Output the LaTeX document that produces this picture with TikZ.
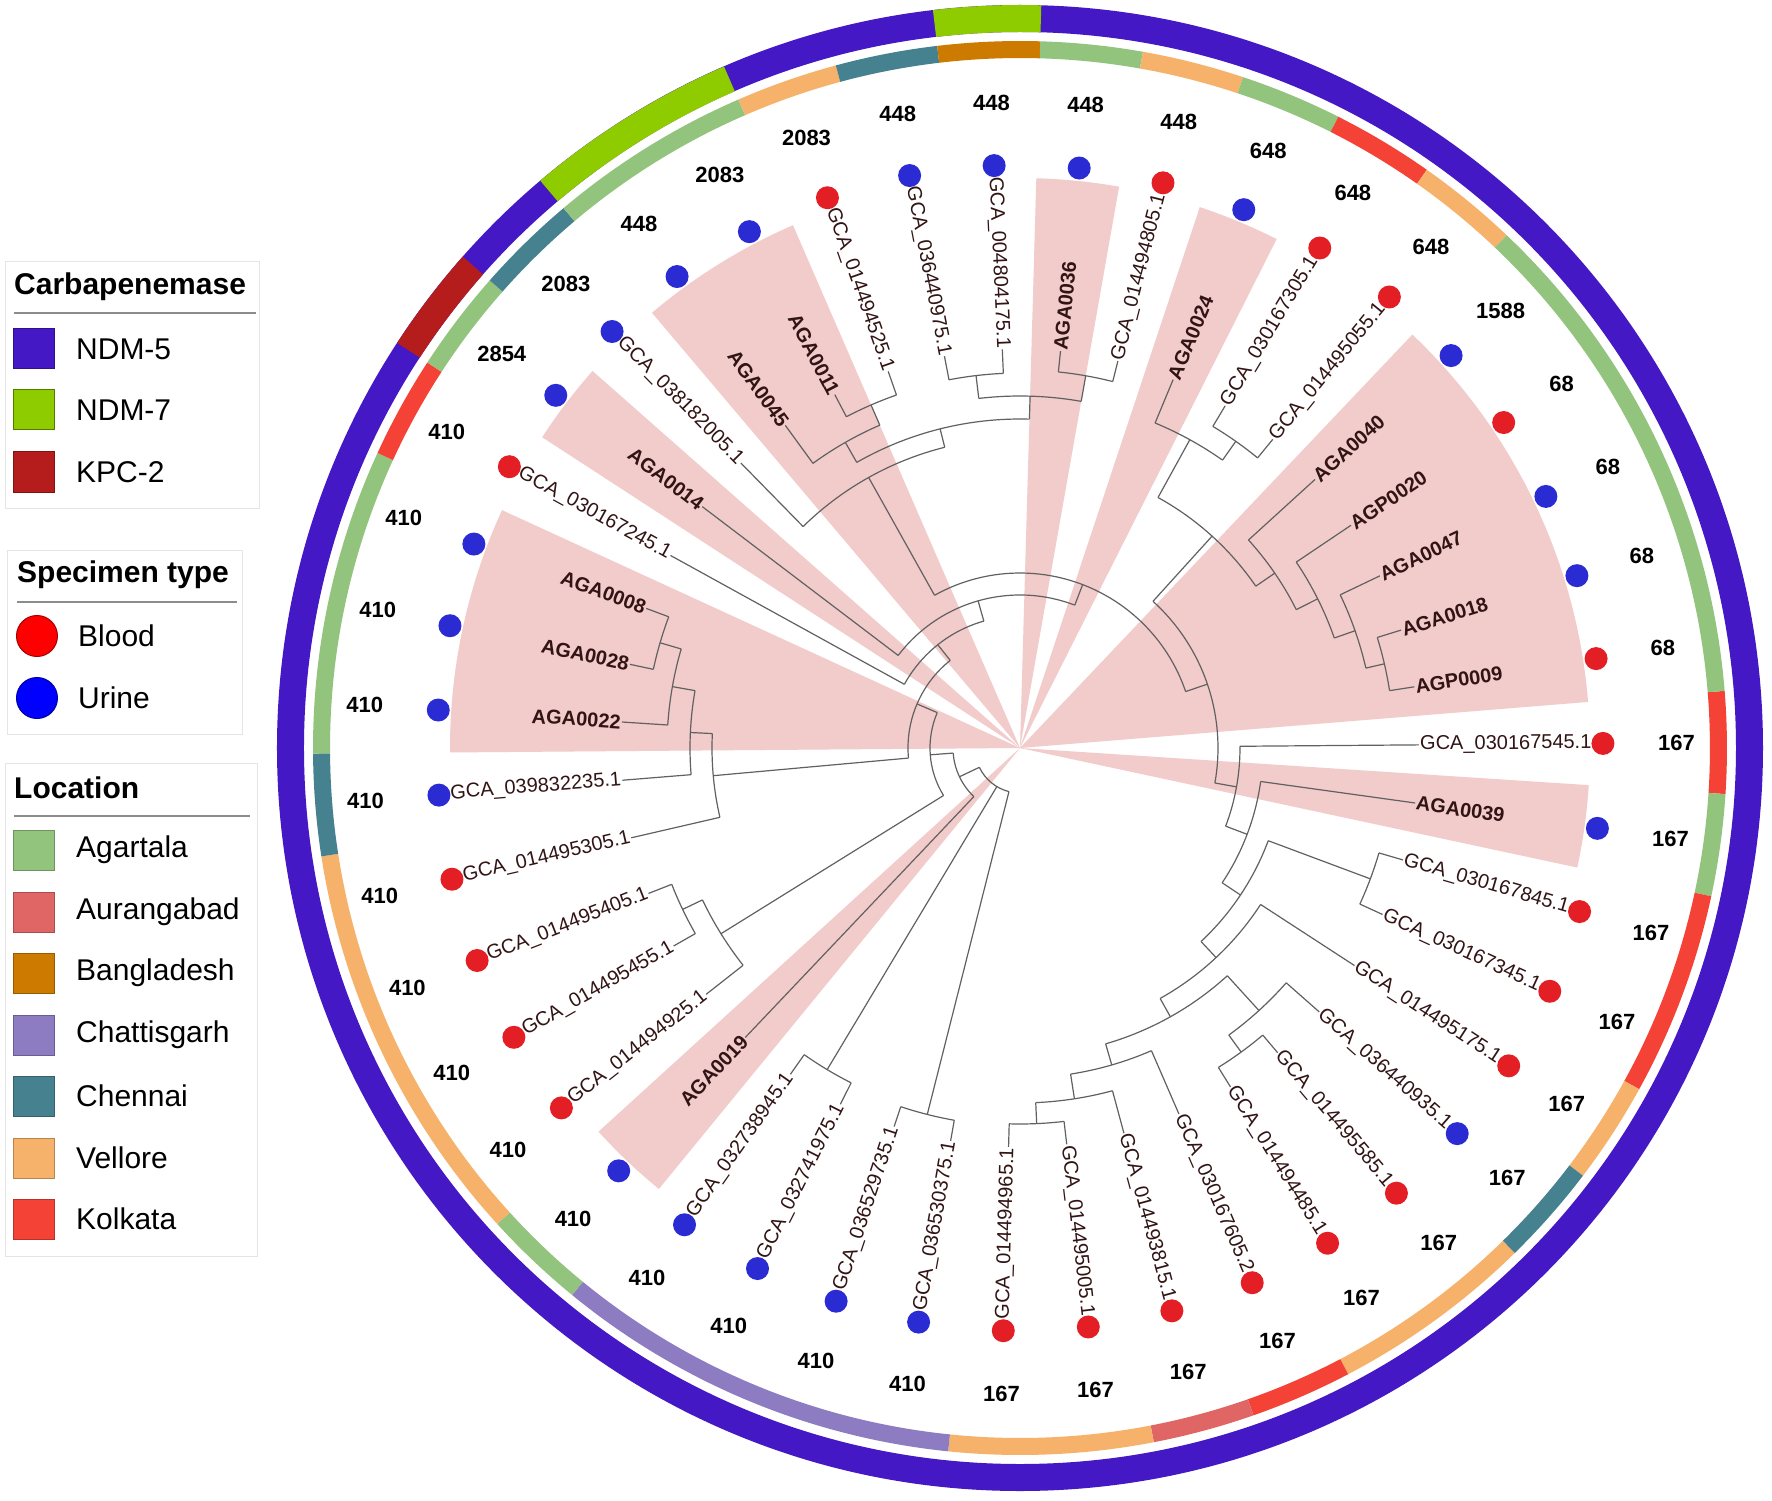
\documentclass[tikz,border=0pt]{standalone}
\usepackage{fontspec}
\setmainfont{Liberation Sans}
\definecolor{cNDMfive}{HTML}{4418C4}
\definecolor{cNDMseven}{HTML}{8ECC00}
\definecolor{cKPC}{HTML}{B51D1D}
\definecolor{cAga}{HTML}{93C47D}
\definecolor{cAur}{HTML}{E06666}
\definecolor{cBan}{HTML}{CC7A00}
\definecolor{cCha}{HTML}{8E7CC3}
\definecolor{cChe}{HTML}{45818E}
\definecolor{cVel}{HTML}{F6B26B}
\definecolor{cKol}{HTML}{F44336}
\definecolor{bloodc}{HTML}{E31E24}
\definecolor{urinec}{HTML}{2B2BD4}
\definecolor{wedgec}{HTML}{F2CBCB}
\definecolor{labc}{RGB}{50,20,20}
\newcommand\gcaf{\fontsize{20}{24}\selectfont}
\newcommand\agaf{\fontsize{20}{24}\selectfont\bfseries}
\newcommand\legtitle{\fontsize{30}{34}\selectfont\bfseries}
\newcommand\legitem{\fontsize{30}{34}\selectfont}
\tikzset{
  branch/.style={draw=black!62, line width=1.2pt},
  leaflab/.style={inner sep=1pt, text=labc},
  specdot/.style={circle, inner sep=0pt, minimum size=23},
  stlab/.style={inner sep=0pt, font=\fontsize{22}{26}\selectfont\bfseries},
  swatch/.style={rectangle, inner sep=0pt, minimum width=41, minimum height=40, line width=1pt},
  legdot/.style={circle, inner sep=0pt, minimum size=41, line width=1pt},
  legbox/.style={draw=black!10, fill=white, line width=1pt},
  legrule/.style={draw=black!45, line width=1.5pt}
}
% tree internal node: name, radius, angle, first child angle, last child angle, parent radius
\newcommand\tnode[6]{%
  \coordinate (#1) at (#3:#2);
  \draw[branch] (#4:#2) arc[start angle=#4, end angle=#5, radius=#2];
  \draw[branch] (#3:#6) -- (#1);}
\newcommand\cladewedge[2]{%
  \pgfmathsetmacro\rsA{0.45-(#1-1)*360/43+180/43}%
  \pgfmathsetmacro\rsB{0.45-(#2-1)*360/43-180/43}%
  \fill[wedgec] (0,0) -- (\rsA:570) arc[start angle=\rsA, end angle=\rsB, radius=570] -- cycle;}
\newcommand\ringseg[5]{%
  \pgfmathsetmacro\rsA{0.45-(#1-1)*360/43+180/43}%
  \pgfmathsetmacro\rsB{0.45-(#2-1)*360/43-180/43}%
  \fill[#5] (\rsA:#3) arc[start angle=\rsA, end angle=\rsB, radius=#3] -- (\rsB:#4) arc[start angle=\rsB, end angle=\rsA, radius=#4] -- cycle;}
\begin{document}
\begin{tikzpicture}[x=1pt,y=1pt]
\useasboundingbox (-1020,-752) rectangle (752,748);
\fill[white] (-1020,-752) rectangle (752,748);
% ---------- clade shading
\cladewedge{2}{2}
\cladewedge{17}{17}
\cladewedge{23}{25}
\cladewedge{27}{27}
\cladewedge{29}{30}
\cladewedge{34}{34}
\cladewedge{36}{36}
\cladewedge{39}{43}
% ---------- tree (internal nodes)
\coordinate (nW) at (230.6:45);
\draw[branch] (205.4195:45) arc[start angle=205.4195, end angle=255.799, radius=45];
\tnode{nU}{67}{205.4195}{184.343}{226.496}{45}
\tnode{nV}{90}{184.343}{156.841}{211.845}{67}
\tnode{nT}{112}{156.841}{128.523}{185.159}{90}
\tnode{nS}{132}{128.523}{151.148}{105.8985}{112}
\tnode{nQ}{153}{105.8985}{142.776}{69.021}{132}
\tnode{nP}{175}{69.021}{119.229}{18.813}{153}
\tnode{nRone}{198}{18.813}{47.8045}{-10.178}{175}
\tnode{nB}{220}{-10.178}{0.45}{-20.807}{198}
\tnode{nC}{243}{-20.807}{-7.922}{-33.692}{220}
\tnode{nF}{265}{-33.692}{-20.480}{-46.905}{243}
\tnode{nTF}{374}{-20.480}{-16.294}{-24.666}{265}
\tnode{nH}{287}{-46.905}{-33.038}{-60.771}{265}
\tnode{nI}{308}{-60.771}{-47.690}{-73.853}{287}
\tnode{nSix}{355}{-47.690}{-41.411}{-53.969}{308}
\tnode{nSvE}{376}{-53.969}{-49.783}{-58.155}{355}
\tnode{nNine}{330}{-73.853}{-66.527}{-81.178}{308}
\tnode{nTen}{355}{-81.178}{-74.899}{-87.457}{330}
\tnode{nElTw}{376}{-87.457}{-83.271}{-91.643}{355}
\tnode{nA}{286}{47.8045}{61.148}{34.461}{198}
\tnode{nThSix}{352}{61.148}{67.427}{54.869}{286}
\tnode{nThSv}{375}{54.869}{59.055}{50.683}{352}
\tnode{nThNi}{309}{34.461}{42.310}{26.6125}{286}
\tnode{nFo}{333}{26.6125}{33.938}{19.287}{309}
\tnode{nFoOne}{355}{19.287}{25.566}{13.008}{333}
\tnode{nFoTw}{374}{13.008}{17.194}{8.822}{355}
\tnode{nTwEi}{310}{119.229}{134.403}{104.0545}{175}
\tnode{nTop}{329}{104.0545}{119.752}{88.357}{310}
\tnode{nTwNi}{352}{119.752}{126.031}{113.473}{329}
\tnode{nThi}{374}{113.473}{117.659}{109.287}{352}
\tnode{nThTw}{352}{88.357}{96.729}{79.985}{329}
\tnode{nThTh}{375}{96.729}{100.915}{92.543}{352}
\tnode{nThFo}{378}{79.985}{84.171}{75.799}{352}
\tnode{nTwOne}{308}{185.159}{193.008}{177.3105}{112}
\tnode{nTwTw}{330}{177.3105}{184.636}{169.985}{308}
\tnode{nTwTh}{353}{169.985}{176.264}{163.706}{330}
\tnode{nTwFo}{375}{163.706}{167.892}{159.520}{353}
\tnode{nEiT}{352}{211.845}{218.124}{205.566}{90}
\tnode{nNiT}{374}{205.566}{209.752}{201.380}{352}
\tnode{nFiSi}{375}{239.055}{243.241}{234.869}{45}
\tnode{nThFoT}{378}{255.799}{259.985}{251.613}{45}
% ---------- leaves
\foreach \i/\nm/\sp/\st/\rp/\fn in {
1/GCA\_030167545.1/bloodc/167/220/\gcaf,
2/AGA0039/urinec/167/243/\agaf,
3/GCA\_030167845.1/bloodc/167/374/\gcaf,
4/GCA\_030167345.1/bloodc/167/374/\gcaf,
5/GCA\_014495175.1/bloodc/167/287/\gcaf,
6/GCA\_036440935.1/urinec/167/355/\gcaf,
7/GCA\_014495585.1/bloodc/167/376/\gcaf,
8/GCA\_014494485.1/bloodc/167/376/\gcaf,
9/GCA\_030167605.2/bloodc/167/330/\gcaf,
10/GCA\_014493815.1/bloodc/167/355/\gcaf,
11/GCA\_014495005.1/bloodc/167/376/\gcaf,
12/GCA\_014494965.1/bloodc/167/376/\gcaf,
13/GCA\_036530375.1/urinec/410/378/\gcaf,
14/GCA\_036529735.1/urinec/410/378/\gcaf,
15/GCA\_032741975.1/urinec/410/375/\gcaf,
16/GCA\_032738945.1/urinec/410/375/\gcaf,
17/AGA0019/urinec/410/67/\agaf,
18/GCA\_014494925.1/bloodc/410/352/\gcaf,
19/GCA\_014495455.1/bloodc/410/374/\gcaf,
20/GCA\_014495405.1/bloodc/410/374/\gcaf,
21/GCA\_014495305.1/bloodc/410/308/\gcaf,
22/GCA\_039832235.1/urinec/410/330/\gcaf,
23/AGA0022/urinec/410/353/\agaf,
24/AGA0028/urinec/410/375/\agaf,
25/AGA0008/urinec/410/375/\agaf,
26/GCA\_030167245.1/bloodc/410/132/\gcaf,
27/AGA0014/urinec/2854/153/\agaf,
28/GCA\_038182005.1/urinec/2083/310/\gcaf,
29/AGA0045/urinec/448/352/\agaf,
30/AGA0011/urinec/2083/374/\agaf,
31/GCA\_014494525.1/bloodc/2083/374/\gcaf,
32/GCA\_036440975.1/urinec/448/375/\gcaf,
33/GCA\_004804175.1/urinec/448/375/\gcaf,
34/AGA0036/urinec/448/378/\agaf,
35/GCA\_014494805.1/bloodc/448/378/\gcaf,
36/AGA0024/urinec/648/352/\agaf,
37/GCA\_030167305.1/bloodc/648/375/\gcaf,
38/GCA\_014495055.1/bloodc/648/375/\gcaf,
39/AGA0040/urinec/1588/309/\agaf,
40/AGP0020/bloodc/68/333/\agaf,
41/AGA0047/urinec/68/355/\agaf,
42/AGA0018/urinec/68/374/\agaf,
43/AGP0009/bloodc/68/374/\agaf}{
  \pgfmathsetmacro\th{0.45-(\i-1)*360/43}
  \ifnum\i>12 \pgfmathsetmacro\th{\th+360}\fi
  \ifnum\i<12 \def\side{R}\else\ifnum\i>33 \def\side{R}\else\def\side{L}\fi\fi
  \if R\side
    \node[leaflab, anchor=west, rotate=\th] (L\i) at (\th:399) {\fn\nm};
    \draw[branch] (\th:\rp) -- (L\i.west);
  \else
    \pgfmathsetmacro\rot{\th-180}
    \node[leaflab, anchor=east, rotate=\rot] (L\i) at (\th:399) {\fn\nm};
    \draw[branch] (\th:\rp) -- (L\i.east);
  \fi
  \node[specdot, fill=\sp] (D\i) at (\th:583) {};
  \pgfmathsetmacro\an{mod(\th+540,360)}
  \node[stlab, anchor=\an] (S\i) at (\th:638) {\st};
}
% ---------- location ring
\ringseg{1}{1}{690}{707}{cKol}
\ringseg{2}{2}{690}{707}{cAga}
\ringseg{3}{4}{690}{707}{cKol}
\ringseg{5}{5}{690}{707}{cVel}
\ringseg{6}{6}{690}{707}{cChe}
\ringseg{7}{8}{690}{707}{cVel}
\ringseg{9}{9}{690}{707}{cKol}
\ringseg{10}{10}{690}{707}{cAur}
\ringseg{11}{12}{690}{707}{cVel}
\ringseg{13}{16}{690}{707}{cCha}
\ringseg{17}{17}{690}{707}{cAga}
\ringseg{18}{21}{690}{707}{cVel}
\ringseg{22}{22}{690}{707}{cChe}
\ringseg{23}{25}{690}{707}{cAga}
\ringseg{26}{26}{690}{707}{cKol}
\ringseg{27}{27}{690}{707}{cAga}
\ringseg{28}{28}{690}{707}{cChe}
\ringseg{29}{30}{690}{707}{cAga}
\ringseg{31}{31}{690}{707}{cVel}
\ringseg{32}{32}{690}{707}{cChe}
\ringseg{33}{33}{690}{707}{cBan}
\ringseg{34}{34}{690}{707}{cAga}
\ringseg{35}{35}{690}{707}{cVel}
\ringseg{36}{36}{690}{707}{cAga}
\ringseg{37}{37}{690}{707}{cKol}
\ringseg{38}{38}{690}{707}{cVel}
\ringseg{39}{43}{690}{707}{cAga}
% ---------- carbapenemase ring
\fill[cNDMfive, even odd rule] (0,0) circle[radius=743] (0,0) circle[radius=716];
\ringseg{27}{27}{716}{743}{cKPC}
\ringseg{29}{30}{716}{743}{cNDMseven}
\ringseg{33}{33}{716}{743}{cNDMseven}
% ---------- legend: carbapenemase
\draw[legbox] (-1014,486) rectangle (-760,240);
\node[anchor=west, inner sep=0pt, font=\legtitle] (lgA) at (-1006,461) {Carbapenemase};
\draw[legrule] (-1006,435) -- (-764,435);
\node[swatch, fill=cNDMfive, draw=cNDMfive!70!black] (kA) at (-985.5,399) {};
\node[anchor=west, inner sep=0pt, font=\legitem] (kAt) at (-944,399) {NDM-5};
\node[swatch, fill=cNDMseven, draw=cNDMseven!60!black] (kB) at (-985.5,338) {};
\node[anchor=west, inner sep=0pt, font=\legitem] (kBt) at (-944,338) {NDM-7};
\node[swatch, fill=cKPC, draw=cKPC!70!black] (kC) at (-985.5,276) {};
\node[anchor=west, inner sep=0pt, font=\legitem] (kCt) at (-944,276) {KPC-2};
% ---------- legend: specimen
\draw[legbox] (-1012,198) rectangle (-777,14);
\node[anchor=west, inner sep=0pt, font=\legtitle] (lgB) at (-1003,173) {Specimen type};
\draw[legrule] (-1003,146) -- (-783,146);
\node[legdot, fill=red, draw=red!65!black] (sA) at (-983,112) {};
\node[anchor=west, inner sep=0pt, font=\legitem] (sAt) at (-942,112) {Blood};
\node[legdot, fill=blue, draw=blue!65!black] (sB) at (-983,50) {};
\node[anchor=west, inner sep=0pt, font=\legitem] (sBt) at (-942,50) {Urine};
% ---------- legend: location
\draw[legbox] (-1014,-15) rectangle (-762,-508);
\node[anchor=west, inner sep=0pt, font=\legtitle] (lgC) at (-1006,-40) {Location};
\draw[legrule] (-1006,-68) -- (-770,-68);
\foreach \k/\c/\t/\y in {1/cAga/Agartala/-102, 2/cAur/Aurangabad/-164, 3/cBan/Bangladesh/-225, 4/cCha/Chattisgarh/-287, 5/cChe/Chennai/-348, 6/cVel/Vellore/-410, 7/cKol/Kolkata/-471}{
  \node[swatch, fill=\c, draw=\c!75!black] (lc\k) at (-985.5,\y) {};
  \node[anchor=west, inner sep=0pt, font=\legitem] (lc\k t) at (-944,\y) {\t};
}
\end{tikzpicture}
\end{document}
